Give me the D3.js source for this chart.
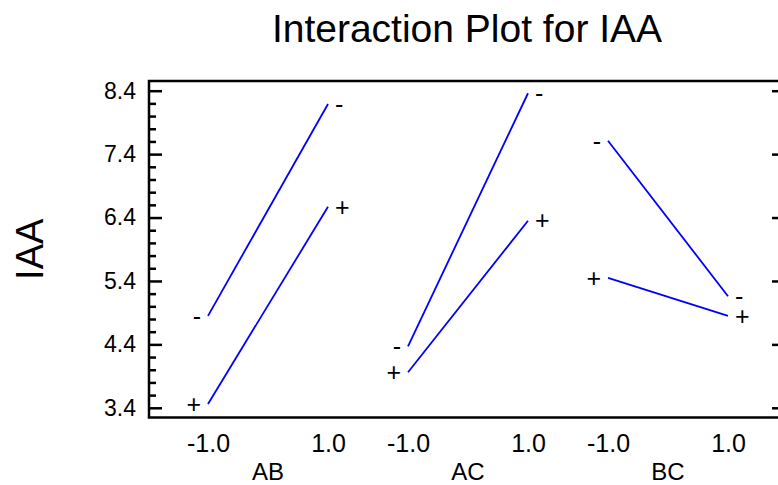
<!DOCTYPE html>
<html>
<head>
<meta charset="utf-8">
<script src="https://cdn.jsdelivr.net/npm/d3@7/dist/d3.min.js"></script>
<style>
  html, body { margin: 0; padding: 0; background: #ffffff; }
  svg { display: block; }
  svg text { font-family: "Liberation Sans", Arial, Helvetica, sans-serif; fill: #000; }
</style>
</head>
<body>
<svg id="chart" width="778" height="485"></svg>
<script>
// Interaction factors shown along the x axis
const factors = ["AB", "AC", "BC"];
// Coded levels of the first factor in each pair
const levels = [-1, 1];
// Mean IAA at levels -1 and +1, second factor at its low ("-") level
const lowValues = {
  AB: [4.85, 8.19],
  AC: [4.37, 8.36],
  BC: [7.61, 5.16]
};
// Mean IAA at levels -1 and +1, second factor at its high ("+") level
const highValues = {
  AB: [3.46, 6.57],
  AC: [3.96, 6.35],
  BC: [5.45, 4.85]
};
const seriesSymbols = ["-", "+"];
const yMajorTicks = [3.4, 4.4, 5.4, 6.4, 7.4, 8.4];

const svg = d3.select("#chart");
const plotLeft = 149, plotRight = 785, plotTop = 81, plotBottom = 417.5;

const y = d3.scaleLinear().domain([3.247, 8.553]).range([plotBottom, plotTop]);
const band = d3.scaleBand().domain(factors).range([plotLeft, plotLeft + 600]);
const inner = d3.scaleLinear().domain([-1, 1]).range([59, 179]);

// Title
svg.append("text")
  .attr("x", (plotLeft + plotRight) / 2).attr("y", 41.5)
  .attr("text-anchor", "middle")
  .style("font-size", "39px")
  .text("Interaction Plot for IAA");

// Y axis title
svg.append("text")
  .attr("transform", `translate(42.5, ${(plotTop + plotBottom) / 2}) rotate(-90)`)
  .attr("text-anchor", "middle")
  .style("font-size", "38px")
  .text("IAA");

// Minor ticks every 0.2 on both vertical sides
const minorTicks = d3.range(3.4, 8.41, 0.2).filter(v => !yMajorTicks.some(m => Math.abs(m - v) < 1e-6));
const styleAxis = g => {
  g.select(".domain").remove();
  g.selectAll(".tick line").attr("stroke", "#000").attr("stroke-width", 2.5);
};

svg.append("g").attr("transform", `translate(${plotLeft},0)`)
  .call(d3.axisLeft(y).tickValues(minorTicks).tickSizeInner(-7).tickSizeOuter(0).tickFormat(""))
  .call(styleAxis);
svg.append("g").attr("transform", `translate(${plotLeft},0)`)
  .call(d3.axisLeft(y).tickValues(yMajorTicks).tickSizeInner(-13).tickSizeOuter(0).tickPadding(13)
    .tickFormat(d => d.toFixed(1)))
  .call(styleAxis)
  .call(g => g.selectAll("text").style("font-size", "23px"));

svg.append("g").attr("transform", `translate(${plotRight},0)`)
  .call(d3.axisRight(y).tickValues(minorTicks).tickSizeInner(-7).tickSizeOuter(0).tickFormat(""))
  .call(styleAxis);
svg.append("g").attr("transform", `translate(${plotRight},0)`)
  .call(d3.axisRight(y).tickValues(yMajorTicks).tickSizeInner(-13).tickSizeOuter(0).tickFormat(""))
  .call(styleAxis);

// Frame
svg.append("rect")
  .attr("x", plotLeft).attr("y", plotTop)
  .attr("width", plotRight - plotLeft).attr("height", plotBottom - plotTop)
  .attr("fill", "none").attr("stroke", "#000").attr("stroke-width", 2.5);

// X axis: level labels and factor names per panel
factors.forEach(f => {
  const g = svg.append("g").attr("transform", `translate(${band(f)},${plotBottom})`);
  g.call(d3.axisBottom(inner).tickValues(levels).tickSize(0).tickPadding(17)
      .tickFormat(d => d.toFixed(1)))
    .call(a => a.select(".domain").remove())
    .call(a => a.selectAll("text").style("font-size", "25px"));
  g.append("text")
    .attr("x", inner(0)).attr("y", 480 - plotBottom)
    .attr("text-anchor", "middle")
    .style("font-size", "24px")
    .text(f);
});

// Interaction lines with end symbols
const line = d3.line().x(d => d.x).y(d => y(d.v));
factors.forEach(f => {
  [lowValues[f], highValues[f]].forEach((vals, si) => {
    const pts = levels.map((lv, i) => ({ x: band(f) + inner(lv), v: vals[i] }));
    svg.append("path")
      .attr("d", line(pts))
      .attr("fill", "none")
      .attr("stroke", "#0000ff")
      .attr("stroke-width", 1.8);
    pts.forEach((p, i) => {
      svg.append("text")
        .attr("x", i === 0 ? p.x - 7 : p.x + 7)
        .attr("y", y(p.v))
        .attr("dy", "0.35em")
        .attr("text-anchor", i === 0 ? "end" : "start")
        .style("font-size", "25px")
        .text(seriesSymbols[si]);
    });
  });
});
</script>
</body>
</html>
